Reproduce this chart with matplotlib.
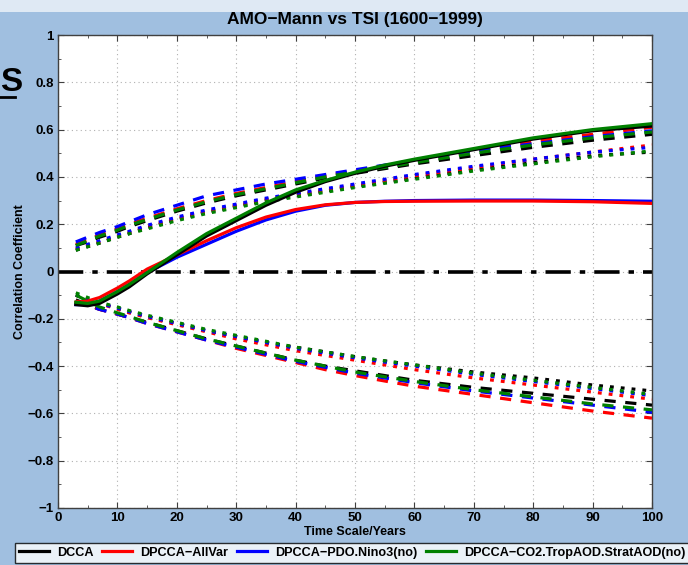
import matplotlib
matplotlib.use("Agg")
import matplotlib.pyplot as plt
from matplotlib.lines import Line2D
from matplotlib.patches import Rectangle
from matplotlib.ticker import MultipleLocator

# Time scales (years)
scales = [3, 5, 7, 10, 12, 15, 20, 25, 30, 35, 40, 45, 50, 55, 60, 70, 80, 90, 100]

# Correlation coefficient (solid lines)
dcca_rho = [-0.14, -0.145, -0.135, -0.095, -0.065, -0.01, 0.07, 0.15, 0.215, 0.28, 0.335, 0.38, 0.415, 0.445, 0.47, 0.515, 0.56, 0.595, 0.615]
allvar_rho = [-0.13, -0.125, -0.11, -0.07, -0.04, 0.01, 0.07, 0.13, 0.185, 0.23, 0.262, 0.282, 0.292, 0.296, 0.297, 0.298, 0.298, 0.295, 0.288]
pdo_rho = [-0.14, -0.14, -0.125, -0.085, -0.055, -0.005, 0.06, 0.115, 0.17, 0.218, 0.255, 0.28, 0.292, 0.297, 0.3, 0.302, 0.302, 0.3, 0.297]
co2_rho = [-0.13, -0.135, -0.125, -0.085, -0.055, -0.005, 0.08, 0.16, 0.225, 0.29, 0.345, 0.385, 0.42, 0.45, 0.475, 0.52, 0.565, 0.6, 0.625]

# Upper significance levels (dashed = 95%, dotted = 90%)
dcca_up95 = [0.11, 0.125, 0.145, 0.17, 0.19, 0.215, 0.255, 0.29, 0.32, 0.345, 0.37, 0.395, 0.415, 0.435, 0.455, 0.49, 0.525, 0.555, 0.58]
allvar_up95 = [0.115, 0.135, 0.155, 0.18, 0.2, 0.225, 0.265, 0.3, 0.33, 0.355, 0.38, 0.405, 0.425, 0.448, 0.47, 0.51, 0.55, 0.58, 0.61]
pdo_up95 = [0.125, 0.145, 0.165, 0.19, 0.21, 0.24, 0.28, 0.32, 0.345, 0.37, 0.39, 0.41, 0.43, 0.45, 0.47, 0.51, 0.54, 0.57, 0.595]
co2_up95 = [0.11, 0.13, 0.15, 0.175, 0.195, 0.22, 0.26, 0.295, 0.325, 0.35, 0.375, 0.4, 0.42, 0.44, 0.46, 0.5, 0.535, 0.565, 0.59]

dcca_up90 = [0.09, 0.105, 0.12, 0.145, 0.16, 0.185, 0.22, 0.25, 0.275, 0.3, 0.32, 0.34, 0.36, 0.378, 0.395, 0.43, 0.46, 0.49, 0.505]
allvar_up90 = [0.095, 0.11, 0.125, 0.15, 0.165, 0.19, 0.225, 0.255, 0.28, 0.305, 0.325, 0.345, 0.365, 0.385, 0.405, 0.44, 0.475, 0.505, 0.535]
pdo_up90 = [0.1, 0.115, 0.13, 0.155, 0.17, 0.195, 0.23, 0.26, 0.285, 0.31, 0.33, 0.35, 0.37, 0.39, 0.41, 0.445, 0.475, 0.505, 0.525]
co2_up90 = [0.09, 0.105, 0.12, 0.145, 0.16, 0.18, 0.215, 0.245, 0.27, 0.295, 0.315, 0.335, 0.355, 0.373, 0.39, 0.425, 0.455, 0.485, 0.51]

# Lower significance levels
dcca_lo95 = [-0.12, -0.14, -0.16, -0.18, -0.195, -0.215, -0.25, -0.285, -0.315, -0.345, -0.375, -0.4, -0.42, -0.44, -0.46, -0.49, -0.515, -0.54, -0.565]
allvar_lo95 = [-0.125, -0.14, -0.16, -0.18, -0.195, -0.22, -0.255, -0.29, -0.325, -0.355, -0.385, -0.415, -0.44, -0.463, -0.485, -0.52, -0.555, -0.59, -0.62]
pdo_lo95 = [-0.13, -0.145, -0.16, -0.18, -0.195, -0.22, -0.255, -0.29, -0.32, -0.35, -0.38, -0.405, -0.43, -0.45, -0.47, -0.505, -0.535, -0.565, -0.595]
co2_lo95 = [-0.1, -0.125, -0.15, -0.175, -0.19, -0.215, -0.25, -0.285, -0.315, -0.345, -0.375, -0.4, -0.425, -0.445, -0.465, -0.5, -0.53, -0.56, -0.585]

dcca_lo90 = [-0.1, -0.12, -0.135, -0.155, -0.17, -0.19, -0.22, -0.25, -0.275, -0.3, -0.32, -0.34, -0.36, -0.378, -0.395, -0.425, -0.45, -0.48, -0.505]
allvar_lo90 = [-0.1, -0.12, -0.135, -0.16, -0.175, -0.195, -0.225, -0.255, -0.285, -0.31, -0.335, -0.355, -0.375, -0.395, -0.415, -0.45, -0.48, -0.51, -0.54]
pdo_lo90 = [-0.1, -0.12, -0.135, -0.155, -0.17, -0.19, -0.22, -0.25, -0.275, -0.3, -0.325, -0.345, -0.365, -0.383, -0.4, -0.435, -0.465, -0.495, -0.525]
co2_lo90 = [-0.09, -0.11, -0.13, -0.15, -0.165, -0.185, -0.215, -0.245, -0.27, -0.295, -0.32, -0.34, -0.36, -0.378, -0.395, -0.43, -0.46, -0.49, -0.52]

labels = ["DCCA", "DPCCA\u2212AllVar", "DPCCA\u2212PDO.Nino3(no)", "DPCCA\u2212CO2.TropAOD.StratAOD(no)"]
colors = ["#000000", "#ff0000", "#0000ff", "#008000"]

rho = [dcca_rho, allvar_rho, pdo_rho, co2_rho]
up95 = [dcca_up95, allvar_up95, pdo_up95, co2_up95]
up90 = [dcca_up90, allvar_up90, pdo_up90, co2_up90]
lo95 = [dcca_lo95, allvar_lo95, pdo_lo95, co2_lo95]
lo90 = [dcca_lo90, allvar_lo90, pdo_lo90, co2_lo90]

plt.rcParams["font.family"] = ["Liberation Sans", "DejaVu Sans"]
plt.rcParams["font.weight"] = "bold"

W, H = 688, 565
fig = plt.figure(figsize=(W / 100, H / 100), dpi=100, facecolor="#a0bfe0")
# light strip along the top
fig.patches.append(Rectangle((0, 1 - 12 / H), 1, 12 / H, transform=fig.transFigure,
                             facecolor="#dfe9f4", edgecolor="none", zorder=0))

ax = fig.add_axes([58 / W, 1 - 508 / H, (652 - 58) / W, (508 - 35) / H])
ax.set_facecolor("white")

# zero reference line
ax.plot([0, 100], [0, 0], color="black", lw=2.6, dashes=(7, 2.5, 1.5, 2.5), zorder=2)

for i in range(4):
    c = colors[i]
    ax.plot(scales, up95[i], color=c, lw=2.3, dashes=(3.5, 3), zorder=3)
    ax.plot(scales, lo95[i], color=c, lw=2.3, dashes=(3.5, 3), zorder=3)
    ax.plot(scales, up90[i], color=c, lw=2.3, dashes=(1.2, 2.2), zorder=3)
    ax.plot(scales, lo90[i], color=c, lw=2.3, dashes=(1.2, 2.2), zorder=3)
for i in [2, 1, 0, 3]:
    ax.plot(scales, rho[i], color=colors[i], lw=2.3, zorder=4)
handles = [Line2D([], [], color=colors[i], lw=2.3) for i in range(4)]

ax.set_xlim(0, 100)
ax.set_ylim(-1, 1)
ax.xaxis.set_major_locator(MultipleLocator(10))
ax.xaxis.set_minor_locator(MultipleLocator(5))
ax.yaxis.set_minor_locator(MultipleLocator(0.1))
ax.set_yticks([-1, -0.8, -0.6, -0.4, -0.2, 0, 0.2, 0.4, 0.6, 0.8, 1])
ax.set_yticklabels(["\u22121", "\u22120.8", "\u22120.6", "\u22120.4", "\u22120.2", "0",
                    "0.2", "0.4", "0.6", "0.8", "1"])
ax.grid(True, which="major", color="#b0b0b0", linestyle=(0, (1, 3)), lw=0.8)
ax.tick_params(which="both", direction="in", top=True, right=True, color="#404040",
               labelsize=9.5, pad=3)
ax.tick_params(which="major", length=4)
ax.tick_params(which="minor", length=2.5)
for s in ax.spines.values():
    s.set_color("#404040")
    s.set_linewidth(1.0)

ax.set_title("AMO\u2212Mann vs TSI (1600\u22121999)", fontsize=12.5, fontweight="bold", pad=8)
ax.set_xlabel("Time Scale/Years", fontsize=9, fontweight="bold", labelpad=1)
ax.set_ylabel("Correlation Coefficient", fontsize=9, fontweight="bold", labelpad=1)

leg = fig.legend(handles, labels, ncol=4, loc="upper left",
                 bbox_to_anchor=(15 / W, 1 - 543 / H), frameon=True, fancybox=False,
                 fontsize=9.1, handlelength=2.4, handletextpad=0.6, columnspacing=0.7,
                 borderpad=0.3, borderaxespad=0)
leg.get_frame().set_edgecolor("black")
leg.get_frame().set_linewidth(1.0)
for t in leg.get_texts():
    t.set_fontweight("bold")

# slide heading fragment at the left edge
fig.text(0, 1 - 91 / H, "S", fontsize=24, fontweight="bold", color="black",
         ha="left", va="baseline")
fig.add_artist(Line2D([0, 15 / W], [1 - 97 / H, 1 - 97 / H], transform=fig.transFigure,
                      color="black", lw=2))

fig.savefig("out.png", dpi=100, facecolor=fig.get_facecolor())
